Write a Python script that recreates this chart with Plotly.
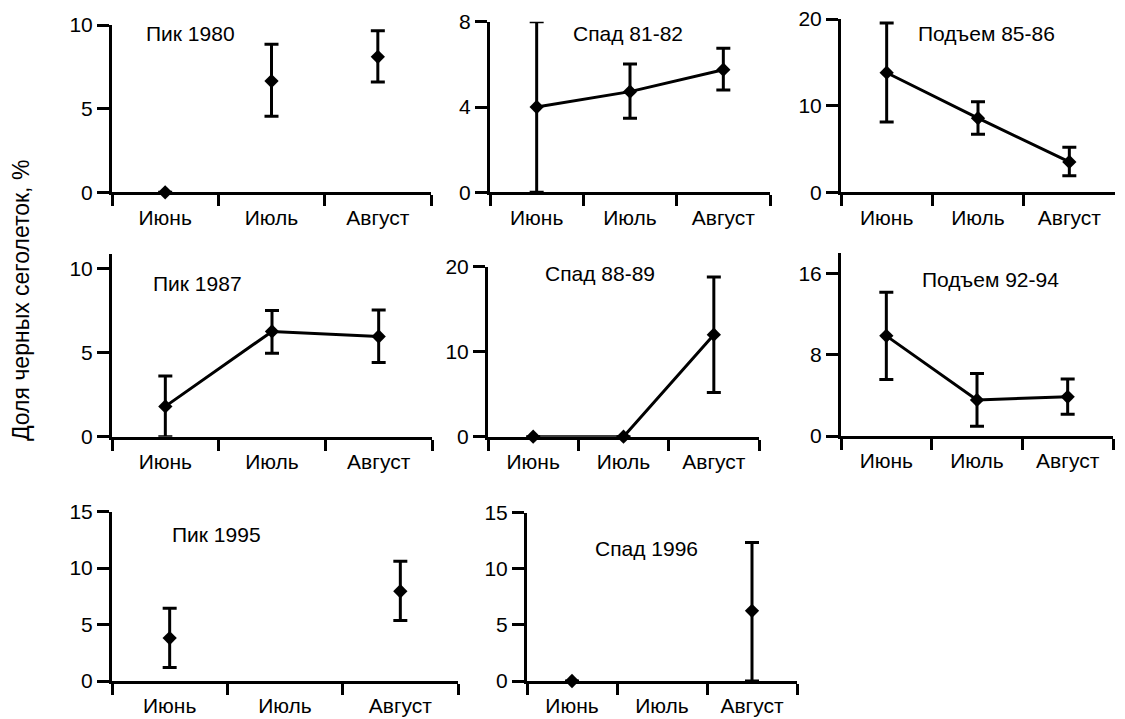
import plotly.graph_objects as go

months = ["Июнь", "Июль", "Август"]

titles = ["Пик 1980", "Спад 81-82", "Подъем 85-86",
          "Пик 1987", "Спад 88-89", "Подъем 92-94",
          "Пик 1995", "Спад 1996"]

# values (None = no data)
v1980 = [0, 6.65, 8.1]
e1980_hi = [None, 2.2, 1.55]
e1980_lo = [None, 2.1, 1.5]

v8182 = [4.0, 4.72, 5.75]
e8182_hi = [4.0, 1.3, 1.0]
e8182_lo = [4.0, 1.25, 0.95]

v8586 = [13.8, 8.55, 3.5]
e8586_hi = [5.75, 1.9, 1.7]
e8586_lo = [5.7, 1.85, 1.6]

v1987 = [1.8, 6.25, 5.95]
e1987_hi = [1.8, 1.25, 1.57]
e1987_lo = [1.8, 1.3, 1.55]

v8889 = [0, 0, 12.0]
e8889_hi = [None, None, 6.8]
e8889_lo = [None, None, 6.8]

v9294 = [9.85, 3.55, 3.85]
e9294_hi = [4.3, 2.6, 1.75]
e9294_lo = [4.3, 2.6, 1.72]

v1995 = [3.8, None, 7.95]
e1995_hi = [2.65, None, 2.65]
e1995_lo = [2.6, None, 2.6]

v1996 = [0, None, 6.25]
e1996_hi = [None, None, 6.1]
e1996_lo = [None, None, 6.25]

y_ticks = [[0, 5, 10], [0, 4, 8], [0, 10, 20],
           [0, 5, 10], [0, 10, 20], [0, 8, 16],
           [0, 5, 10, 15], [0, 5, 10, 15]]
y_ranges = [[0, 10], [0, 8], [0, 20],
            [0, 10.85], [0, 20], [0, 18],
            [0, 15], [0, 15]]

series = [
    (v1980, e1980_hi, e1980_lo, False),
    (v8182, e8182_hi, e8182_lo, True),
    (v8586, e8586_hi, e8586_lo, True),
    (v1987, e1987_hi, e1987_lo, True),
    (v8889, e8889_hi, e8889_lo, True),
    (v9294, e9294_hi, e9294_lo, True),
    (v1995, e1995_hi, e1995_lo, False),
    (v1996, e1996_hi, e1996_lo, False),
]

W, H = 1125, 719
OFF = 8  # page body margin


def fx(px):
    return (px - OFF) / W


def fy(py):
    return 1 - (py - OFF) / H


# pixel boxes: (x_left, x_right, y_bottom, y_top)
boxes = [
    (112, 431, 192.3, 25),
    (490, 770, 192.3, 21.7),
    (841, 1115, 192.3, 19),
    (112, 432, 436.7, 254),
    (488, 759, 436.7, 266.7),
    (841, 1113, 436, 253),
    (112, 458, 681, 511.7),
    (527, 797, 681, 512.7),
]
# title annotation centers (pixels)
title_pos = [(191, 34), (628, 33), (986, 33),
             (197, 283), (600, 273), (990, 279),
             (217, 534), (647, 548)]

FONT = "Liberation Sans, Arial, sans-serif"
FS = 21
fig = go.Figure()

for i, (vals, ehi, elo, connect) in enumerate(series):
    n = i + 1
    xa = "x" if n == 1 else f"x{n}"
    ya = "y" if n == 1 else f"y{n}"
    fig.add_trace(go.Scatter(
        x=months, y=vals, xaxis=xa, yaxis=ya,
        mode="lines+markers" if connect else "markers",
        line=dict(color="black", width=3),
        marker=dict(symbol="diamond", size=11, color="black"),
        error_y=dict(type="data", symmetric=False, array=ehi, arrayminus=elo,
                     color="black", thickness=3, width=7),
        cliponaxis=False, showlegend=False, connectgaps=False,
    ))
    xl, xr, yb, yt = boxes[i]
    axx = dict(domain=[fx(xl), fx(xr)], anchor=ya, type="category",
               categoryorder="array", categoryarray=months,
               range=[-0.5, 2.5], tickson="boundaries", automargin=False,
               showline=True, linecolor="black", linewidth=3,
               ticks="outside", ticklen=11, tickwidth=3, tickcolor="black",
               showgrid=False, zeroline=False, fixedrange=True,
               ticklabeloverflow="allow", ticklabelstandoff=4,
               tickfont=dict(family=FONT, size=FS, color="black"))
    axy = dict(domain=[fy(yb), fy(yt)], anchor=xa,
               range=y_ranges[i], tickvals=y_ticks[i], automargin=False,
               showline=True, linecolor="black", linewidth=3,
               ticks="outside", ticklen=12, tickwidth=3, tickcolor="black",
               showgrid=False, zeroline=False, fixedrange=True,
               ticklabeloverflow="allow",
               tickfont=dict(family=FONT, size=FS, color="black"))
    fig.update_layout(**{("xaxis" if n == 1 else f"xaxis{n}"): axx,
                         ("yaxis" if n == 1 else f"yaxis{n}"): axy})
    tx, ty = title_pos[i]
    fig.add_annotation(x=fx(tx), y=fy(ty), xref="paper", yref="paper",
                       text=titles[i], showarrow=False,
                       xanchor="center", yanchor="middle",
                       font=dict(family=FONT, size=FS, color="black"))

fig.add_annotation(x=fx(21), y=fy(301), xref="paper", yref="paper",
                   text="Доля черных сеголеток, %", textangle=-90,
                   showarrow=False, xanchor="center", yanchor="middle",
                   font=dict(family=FONT, size=23, color="black"))

fig.update_layout(width=W, height=H, margin=dict(l=0, r=0, t=0, b=0),
                  paper_bgcolor="white", plot_bgcolor="white")

fig.write_html("out.html")
